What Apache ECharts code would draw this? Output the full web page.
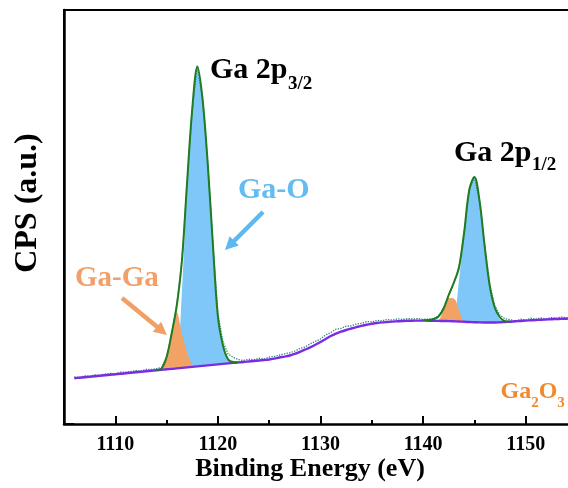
<!DOCTYPE html>
<html>
<head>
<meta charset="utf-8">
<script src="https://cdn.jsdelivr.net/npm/echarts@6/dist/echarts.min.js"></script>
<style>html,body{margin:0;padding:0;background:#fff}#c{width:568px;height:488px}</style>
</head>
<body>
<div id="c"></div>
<script>
// Binding energy grid (eV)
const energy = [1106,1106.5,1107,1107.5,1108,1108.5,1109,1109.5,1110,1110.5,
1111,1111.5,1112,1112.5,1113,1113.5,1114,1114.5,1115,1115.5,
1116,1116.5,1117,1117.5,1118,1118.5,1119,1119.5,1120,1120.5,
1121,1121.5,1122,1122.5,1123,1123.5,1124,1124.5,1125,1125.5,
1126,1126.5,1127,1127.5,1128,1128.5,1129,1129.5,1130,1130.5,
1131,1131.5,1132,1132.5,1133,1133.5,1134,1134.5,1135,1135.5,
1136,1136.5,1137,1137.5,1138,1138.5,1139,1139.5,1140,1140.5,
1141,1141.5,1142,1142.5,1143,1143.5,1144,1144.5,1145,1145.5,
1146,1146.5,1147,1147.5,1148,1148.5,1149,1149.5,1150,1150.5,
1151,1151.5,1152,1152.5,1153,1153.5,1154,1154.5,1155];

// Shirley-type background (a.u.)
const background = [45.8,46.3,46.8,47.3,47.8,48.3,48.8,49.3,49.8,50.2,
50.7,51.2,51.7,52.2,52.7,53.2,53.7,54.2,54.7,55.1,
55.6,56.1,56.6,57.1,57.6,58.1,58.6,59.1,59.6,60.1,
60.6,61.1,61.6,62.0,62.5,63.0,63.5,64.0,64.5,65.4,
66.5,67.4,68.5,70.2,72.2,74.4,76.7,79.2,82.0,85.0,
88.0,90.3,92.3,94.0,95.5,96.9,98.2,99.3,100.2,101.0,
101.6,102.0,102.4,102.7,103.0,103.2,103.3,103.4,103.4,103.3,
103.2,103.1,103.0,102.9,102.7,102.5,102.2,102.0,101.8,101.6,
101.5,101.5,101.5,101.7,102.0,102.3,102.7,103.0,103.4,103.7,
104.0,104.2,104.5,104.8,105.0,105.2,105.3,105.5,105.6];

// Measured raw counts (a.u.)
const raw = [47.0,46.6,48.1,47.6,49.2,48.7,49.9,50.6,50.2,51.8,
51.9,52.4,53.4,52.9,54.6,54.5,55.4,56.5,66.5,90.5,
119.5,164.5,241,315.5,358.5,325,262,182.5,110,82,
70,66.5,64.5,63.5,64.8,64.2,65.8,65.0,66.9,67.5,
69.0,70.2,71.1,73.0,75.5,77.0,80.2,82.6,85.0,89.0,
91.5,94.8,95.5,97.8,98.2,100.0,100.6,102.4,102.0,103.6,
103.2,104.5,103.8,105.2,104.6,105.5,104.9,105.4,104.6,105.0,
105.4,108,116,129.5,141,157,191,234.5,247.5,223,
178.5,139,118,108.5,105.2,104.4,102.6,104.8,103.9,105.8,
104.9,106.0,105.2,106.4,105.8,106.9,106.2,107.0,106.5];

// Fitted envelopes [eV, a.u.]
const envelope32 = [[1114,54],[1114.5,55.5],[1115,67],[1115.5,91],[1116,119],[1116.5,164],[1117,242],[1117.5,315],[1118,357.3],[1118.5,325.4],[1119,261.6],[1119.5,181.5],[1120,107.5],[1120.5,78.3],[1121,64.5],[1121.5,62],[1122,61.8]];
const envelope12 = [[1140,103.8],[1140.5,104],[1141,104.7],[1141.5,107.5],[1142,115.5],[1142.5,129],[1143,141.5],[1143.5,156.5],[1144,191.7],[1144.5,234],[1145,247],[1145.5,223.3],[1146,178],[1146.5,138],[1147,116],[1147.5,106.5],[1148,102.7],[1148.5,102.4]];

// Fitted components (absolute) [eV, a.u.]
const gaO32 = [[1115.5,55.1],[1116,58],[1116.5,134],[1117,238],[1117.5,314],[1118,357],[1118.5,325.4],[1119,261.6],[1119.5,181.5],[1120,107.5],[1120.5,77],[1121,63.5],[1121.5,61.1]];
const gaGa32 = [[1114,53.7],[1114.5,55.2],[1115,66.5],[1115.5,90],[1116,111.5],[1116.5,90],[1117,71.5],[1117.5,59.5],[1118,57.6]];
const gaO12 = [[1142.5,102.9],[1143,104.5],[1143.5,144],[1144,190],[1144.5,234],[1145,247],[1145.5,223.3],[1146,178],[1146.5,138],[1147,116],[1147.5,104.5],[1148,102]];
const gaGa12 = [[1141,103.2],[1141.5,104],[1142,114.5],[1142.5,126],[1143,125.5],[1143.5,114],[1144,102.8],[1144.5,102]];

const majorTicks = [1110,1120,1130,1140,1150];
const minorTicks = [1115,1125,1135,1145,1155];

const FONT = '"Liberation Serif","Times New Roman",serif';
const BLUE = '#7ec7f8', ORANGE = '#f2a264';
const SM = 0.35;

function fill(comp, color) {
  return {type:'line', data:comp, smooth:SM, symbol:'none',
    lineStyle:{width:0, color:color}, areaStyle:{color:color, opacity:1, origin:'start'},
    silent:true, animation:false};
}

const series = [
  fill(gaO32, BLUE),
  fill(gaO12, BLUE),
  fill(gaGa32, ORANGE),
  fill(gaGa12, ORANGE),
  // white area below the background line hides the fills' lower part
  {type:'line', data:energy.map((e,i)=>[e, background[i]]), smooth:SM, symbol:'none',
   lineStyle:{width:0, color:'#fff'}, areaStyle:{color:'#fff', opacity:1, origin:'start'}, silent:true, animation:false},
  {type:'line', name:'raw', data:energy.map((e,i)=>[e, raw[i]]), symbol:'none',
   lineStyle:{color:'#2c7c78', width:1.3, type:'dotted'}, silent:true, animation:false},
  {type:'line', name:'background', data:energy.map((e,i)=>[e, background[i]]), smooth:SM, symbol:'none',
   lineStyle:{color:'#7a2ce4', width:2.4}, silent:true, animation:false},
  {type:'line', name:'fit32', data:envelope32, smooth:SM, symbol:'none',
   lineStyle:{color:'#1f7d1f', width:2}, silent:true, animation:false},
  {type:'line', name:'fit12', data:envelope12, smooth:SM, symbol:'none',
   lineStyle:{color:'#1f7d1f', width:2}, silent:true, animation:false}
];

function arrow(x1, y1, x2, y2, color, w) {
  const dx = x2 - x1, dy = y2 - y1, L = Math.hypot(dx, dy);
  const ux = dx / L, uy = dy / L, hl = 13, hw = 6.5;
  const bx = x2 - ux * hl, by = y2 - uy * hl;
  return [
    {type:'line', shape:{x1:x1, y1:y1, x2:bx + ux*2, y2:by + uy*2}, style:{stroke:color, lineWidth:w}, z:100},
    {type:'polygon', shape:{points:[[x2,y2],[bx - uy*hw, by + ux*hw],[bx + uy*hw, by - ux*hw]]}, style:{fill:color}, z:100}
  ];
}

const ctx = document.createElement('canvas').getContext('2d');
function textWidth(text, size) {
  ctx.font = 'bold ' + size + 'px ' + FONT;
  return ctx.measureText(text).width;
}

function txt(x, y, text, size, color, align) {
  return {type:'text', x:x, y:y, z:100, style:{text:text, fill:color, font:'bold ' + size + 'px ' + FONT,
    align:align || 'left', verticalAlign:'middle'}};
}

const MAIN = 30, SUB = 19;
const graphic = [].concat(
  [
    {type:'text', x:28, y:203, rotation:Math.PI/2, z:100,
     style:{text:'CPS (a.u.)', fill:'#000', font:'bold 32px ' + FONT, align:'center', verticalAlign:'middle'}},
    txt(310, 469, 'Binding Energy (eV)', 26, '#000', 'center'),
    txt(210, 70.5, 'Ga 2p', MAIN, '#000'),
    txt(210 + textWidth('Ga 2p', MAIN) + 0.5, 84, '3/2', SUB, '#000'),
    txt(454, 153.5, 'Ga 2p', MAIN, '#000'),
    txt(454 + textWidth('Ga 2p', MAIN) + 0.5, 165.5, '1/2', SUB, '#000'),
    txt(238, 190.5, 'Ga-O', 30, '#62bcf2'),
    txt(75, 279, 'Ga-Ga', 29, '#f2a06a'),
    txt(500.5, 392, 'Ga', 24, '#f08a2a'),
    txt(500.5 + textWidth('Ga', 24), 403, '2', 15, '#f08a2a'),
    txt(500.5 + textWidth('Ga', 24) + textWidth('2', 15), 392, 'O', 24, '#f08a2a'),
    txt(500.5 + textWidth('Ga', 24) + textWidth('2', 15) + textWidth('O', 24), 403, '3', 15, '#f08a2a')
  ],
  arrow(263, 212, 225, 250, '#5cb8f0', 4.5),
  arrow(122, 298, 167, 335, '#f0a064', 4.5)
);

const chart = echarts.init(document.getElementById('c'), null, {renderer:'canvas'});
chart.setOption({
  animation:false,
  backgroundColor:'#fff',
  grid:{left:64, top:10, width:513, height:414, show:true, borderColor:'#000', borderWidth:2,
        backgroundColor:'transparent', outerBoundsMode:'none', containLabel:false},
  xAxis:[
    {type:'value', min:1105, max:1155, position:'bottom', z:10,
     axisLine:{show:true, onZero:false, lineStyle:{color:'#000', width:2.5}},
     axisTick:{show:true, inside:true, length:8, lineStyle:{color:'#000', width:2}, customValues:majorTicks},
     axisLabel:{show:true, customValues:majorTicks, margin:11, color:'#000', fontSize:20, fontWeight:'bold', fontFamily:FONT,
       formatter:(v)=>String(v)},
     splitLine:{show:false}},
    {type:'value', min:1105, max:1155, position:'bottom', z:10,
     axisLine:{show:false},
     axisTick:{show:true, inside:true, length:4, lineStyle:{color:'#000', width:2}, customValues:minorTicks},
     axisLabel:{show:false},
     splitLine:{show:false}}
  ],
  yAxis:{type:'value', min:0, max:414, z:10,
     axisLine:{show:true, onZero:false, lineStyle:{color:'#000', width:2.5}},
     axisTick:{show:false}, axisLabel:{show:false}, splitLine:{show:false}},
  series: series,
  graphic: graphic
});
</script>
</body>
</html>
